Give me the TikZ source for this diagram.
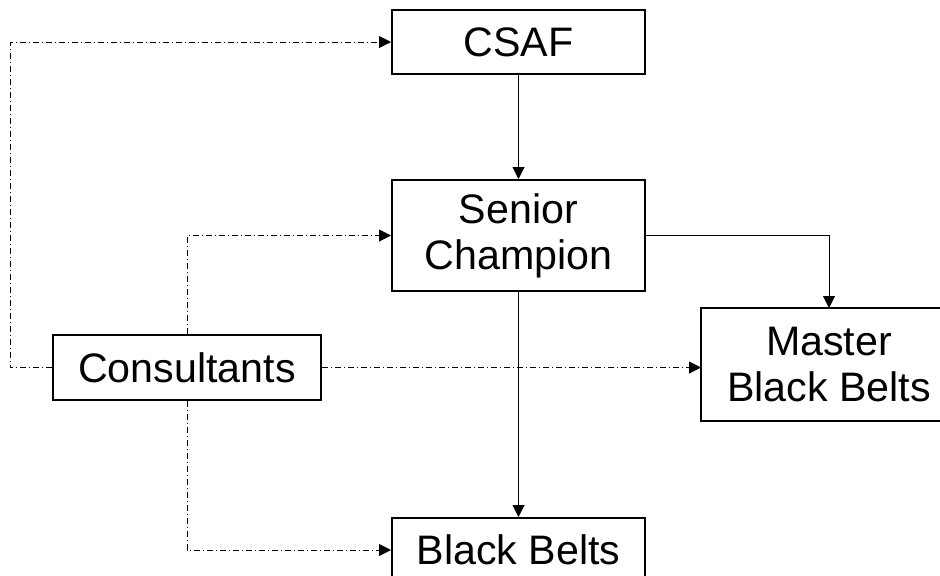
\documentclass[tikz,border=0pt]{standalone}
\usepackage{fontspec}
\setmainfont{Liberation Sans}
\usetikzlibrary{
  arrows.meta,     % filled triangle tips
  positioning      % positions like below of node
}
\tikzset{
    every node/.style = {
        rectangle,
        font=\fontsize{20.6}{23}\selectfont,
        align=center,
        inner sep = 0pt
    },
    box/.style = {draw, line width=1pt, minimum width=126.5pt, minimum height=32pt},
    tall/.append style = {minimum height=55.5pt},
    edgecut/.style = {line width=1pt},
    link/.style = {draw, line width=0.5pt, -{Triangle[length=6pt,width=6pt]}},
    advice/.style = {link, dash pattern=on 3pt off 1.5pt on 0.5pt off 1.5pt},
    >=stealth
}

\begin{document}
\begin{tikzpicture}

  %% frame of the page
  \useasboundingbox (0,0) rectangle (470pt,-287.5pt);
  \clip (0,0) rectangle (470pt,-287.5pt);

  %% chain of command
  \node [box, anchor=north west] (CSAF) at (195.5pt,-4.5pt) {CSAF};
  \node [box, tall, below=52pt of CSAF] (SC) {Senior\\Champion};
  \node [box, below=112.5pt of SC] (BB) {Black Belts};
  \node [box, draw=none, tall, minimum width=127pt, right=27.5pt of SC, yshift=-64.5pt] (MBB) {Master\\Black Belts};
  % box runs off the page on the right
  \draw [edgecut] (MBB.north east) -- (MBB.north west) -- (MBB.south west) -- (MBB.south east);

  \draw [link] (CSAF) to (SC);
  \draw [link] (SC) to (BB);
  \draw [link] (SC.east) -| (MBB.north);

  %% consultants
  \node [box, minimum width=134pt, minimum height=32.5pt, left=34.5pt of SC, yshift=-66pt] (CON) {Consultants};

  \draw [advice] (CON.west) -- ++(-21pt,0) |- (CSAF.west);
  \draw [advice] (CON.north) |- (SC.west);
  \draw [advice] (CON.east) -- (CON.east -| MBB.west);
  \draw [advice] (CON.south) |- (BB.west);

\end{tikzpicture}
\end{document}
